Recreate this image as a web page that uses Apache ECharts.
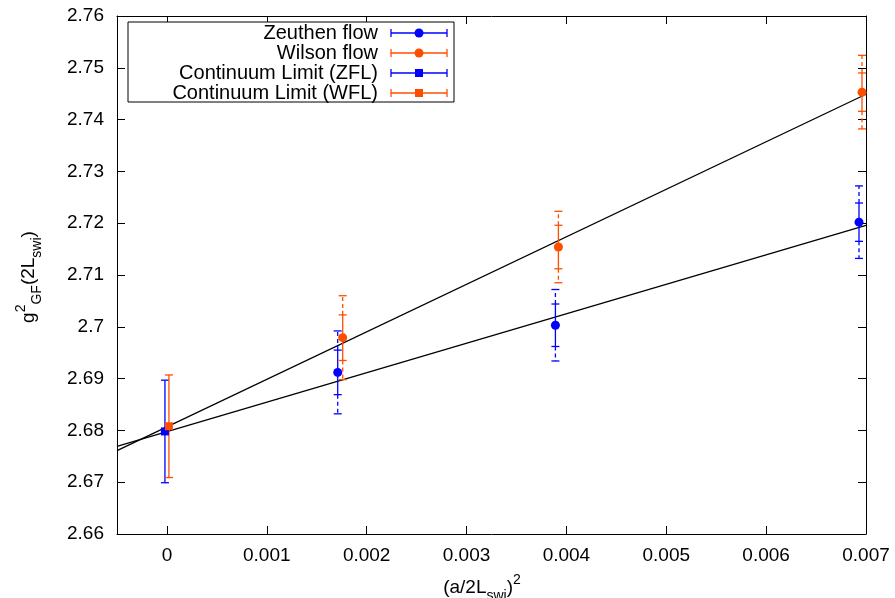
<!DOCTYPE html>
<html>
<head>
<meta charset="utf-8">
<script src="https://cdn.jsdelivr.net/npm/echarts@6/dist/echarts.min.js"></script>
<style>html,body{margin:0;padding:0;background:#fff;}#c{width:895px;height:598px;}</style>
</head>
<body>
<div id="c"></div>
<script>
// ---- data ----
const xTickValues = [0, 0.001, 0.002, 0.003, 0.004, 0.005, 0.006, 0.007];
const legendNames = ['Zeuthen flow', 'Wilson flow', 'Continuum Limit (ZFL)', 'Continuum Limit (WFL)'];

const zfX = [0.00171, 0.00389, 0.00693];
const zfY = [2.6912, 2.7003, 2.7202];
const zfStat = [0.0043, 0.0041, 0.0037];
const zfTot = [0.0080, 0.0069, 0.0070];

const wfX = [0.00176, 0.00392, 0.00696];
const wfY = [2.6979, 2.7154, 2.7453];
const wfStat = [0.0044, 0.0042, 0.0037];
const wfTot = [0.0081, 0.0069, 0.0071];

const zflX = [-0.00002];
const zflY = [2.6798];
const zflErr = [0.0099];

const wflX = [0.00002];
const wflY = [2.6808];
const wflErr = [0.0099];

const fitX = [-0.0005, 0.007];
const zflFitY = [2.6769, 2.7196];
const wflFitY = [2.6761, 2.7449];

// ---- styling ----
const BLUE = '#0000ff';
const ORANGE = '#ff4d00';
const FONT = 'Liberation Sans, Arial, sans-serif';
const FS = 19;
const LFS = 20;
const EW = 1.3;

function errData(xs, ys, st, tot) {
  return xs.map((x, i) => [x, ys[i], st[i], tot ? tot[i] : 0]);
}
function ptData(xs, ys) { return xs.map((x, i) => [x, ys[i]]); }

function errRender(color) {
  return function (params, api) {
    const x = api.value(0), y = api.value(1), s = api.value(2), t = api.value(3);
    const pc = api.coord([x, y]);
    const px = pc[0];
    const yS1 = api.coord([x, y - s])[1], yS2 = api.coord([x, y + s])[1];
    const ch = [];
    const st = { stroke: color, lineWidth: EW };
    const dst = { stroke: color, lineWidth: EW, lineDash: [4, 3] };
    ch.push({ type: 'line', shape: { x1: px, y1: yS1, x2: px, y2: yS2 }, style: st });
    ch.push({ type: 'line', shape: { x1: px - 4, y1: yS1, x2: px + 4, y2: yS1 }, style: st });
    ch.push({ type: 'line', shape: { x1: px - 4, y1: yS2, x2: px + 4, y2: yS2 }, style: st });
    if (t > s) {
      const yT1 = api.coord([x, y - t])[1], yT2 = api.coord([x, y + t])[1];
      ch.push({ type: 'line', shape: { x1: px, y1: yS1, x2: px, y2: yT1 }, style: dst });
      ch.push({ type: 'line', shape: { x1: px, y1: yS2, x2: px, y2: yT2 }, style: dst });
      ch.push({ type: 'line', shape: { x1: px - 4, y1: yT1, x2: px + 4, y2: yT1 }, style: st });
      ch.push({ type: 'line', shape: { x1: px - 4, y1: yT2, x2: px + 4, y2: yT2 }, style: st });
    }
    return { type: 'group', children: ch };
  };
}

function fmtX(v) { return String(Number(v.toFixed(4))); }
function fmtY(v) { return String(Number(v.toFixed(2))); }

const axisLineStyle = { show: true, onZero: false, lineStyle: { color: '#000', width: 1 } };

// legend graphic
const legendColors = [BLUE, ORANGE, BLUE, ORANGE];
const legendSymbols = ['circle', 'circle', 'rect', 'rect'];
const legendGraphics = [{
  type: 'rect', shape: { x: 128, y: 22, width: 326, height: 80 },
  style: { fill: '#fff', stroke: '#000', lineWidth: 1 }, z: 100
}];
legendNames.forEach((name, i) => {
  const cy = 33 + i * 20;
  const c = legendColors[i];
  legendGraphics.push({ type: 'text', x: 378, y: cy, z: 101,
    style: { text: name, fill: '#000', font: LFS + 'px ' + FONT, textAlign: 'right', textVerticalAlign: 'middle' } });
  legendGraphics.push({ type: 'line', z: 101, shape: { x1: 391, y1: cy, x2: 447, y2: cy }, style: { stroke: c, lineWidth: EW } });
  legendGraphics.push({ type: 'line', z: 101, shape: { x1: 391, y1: cy - 4, x2: 391, y2: cy + 4 }, style: { stroke: c, lineWidth: EW } });
  legendGraphics.push({ type: 'line', z: 101, shape: { x1: 447, y1: cy - 4, x2: 447, y2: cy + 4 }, style: { stroke: c, lineWidth: EW } });
  if (legendSymbols[i] === 'circle') {
    legendGraphics.push({ type: 'circle', z: 102, shape: { cx: 419, cy: cy, r: 4.5 }, style: { fill: c } });
  } else {
    legendGraphics.push({ type: 'rect', z: 102, shape: { x: 415, y: cy - 4, width: 8, height: 8 }, style: { fill: c } });
  }
});

const richStyles = {
  a: { fontSize: FS, fontFamily: FONT, color: '#000', lineHeight: 30 },
  sup: { fontSize: 14, fontFamily: FONT, color: '#000', lineHeight: 14, verticalAlign: 'top' },
  sub: { fontSize: 14, fontFamily: FONT, color: '#000', lineHeight: 14, verticalAlign: 'bottom' }
};

const chart = echarts.init(document.getElementById('c'), null, { renderer: 'canvas' });
chart.setOption({
  animation: false,
  backgroundColor: '#fff',
  grid: { left: 117, right: 29, top: 16, bottom: 64, containLabel: false, show: false },
  xAxis: [{
    type: 'value', min: -0.0005, max: 0.007, interval: 0.0005,
    axisLine: axisLineStyle,
    axisTick: { show: true, inside: true, length: 8, customValues: xTickValues, lineStyle: { color: '#000' } },
    axisLabel: { show: true, customValues: xTickValues, formatter: fmtX, color: '#000', fontSize: FS, fontFamily: FONT, margin: 12 },
    splitLine: { show: false }
  }, {
    type: 'value', position: 'top', min: -0.0005, max: 0.007, interval: 0.0005,
    axisLine: axisLineStyle,
    axisTick: { show: true, inside: true, length: 8, customValues: xTickValues, lineStyle: { color: '#000' } },
    axisLabel: { show: false }, splitLine: { show: false }
  }],
  yAxis: [{
    type: 'value', min: 2.66, max: 2.76, interval: 0.01,
    axisLine: axisLineStyle,
    axisTick: { show: true, inside: true, length: 8, lineStyle: { color: '#000' } },
    axisLabel: { formatter: fmtY, color: '#000', fontSize: FS, fontFamily: FONT, margin: 13 },
    splitLine: { show: false }
  }, {
    type: 'value', position: 'right', min: 2.66, max: 2.76, interval: 0.01,
    axisLine: axisLineStyle,
    axisTick: { show: true, inside: true, length: 8, lineStyle: { color: '#000' } },
    axisLabel: { show: false }, splitLine: { show: false }
  }],
  series: [
    { type: 'line', name: 'fitZFL', data: ptData(fitX, zflFitY), symbol: 'none', lineStyle: { color: '#000', width: 1.3 }, z: 2, silent: true },
    { type: 'line', name: 'fitWFL', data: ptData(fitX, wflFitY), symbol: 'none', lineStyle: { color: '#000', width: 1.3 }, z: 2, silent: true },
    { type: 'custom', name: legendNames[0] + ' err', data: errData(zfX, zfY, zfStat, zfTot), renderItem: errRender(BLUE), z: 3, clip: false },
    { type: 'custom', name: legendNames[1] + ' err', data: errData(wfX, wfY, wfStat, wfTot), renderItem: errRender(ORANGE), z: 3, clip: false },
    { type: 'custom', name: legendNames[2] + ' err', data: errData(zflX, zflY, zflErr), renderItem: errRender(BLUE), z: 3, clip: false },
    { type: 'custom', name: legendNames[3] + ' err', data: errData(wflX, wflY, wflErr), renderItem: errRender(ORANGE), z: 3, clip: false },
    { type: 'scatter', name: legendNames[0], data: ptData(zfX, zfY), symbol: 'circle', symbolSize: 9, itemStyle: { color: BLUE, opacity: 1 }, z: 4 },
    { type: 'scatter', name: legendNames[1], data: ptData(wfX, wfY), symbol: 'circle', symbolSize: 9, itemStyle: { color: ORANGE, opacity: 1 }, z: 4 },
    { type: 'scatter', name: legendNames[2], data: ptData(zflX, zflY), symbol: 'rect', symbolSize: 8, itemStyle: { color: BLUE, opacity: 1 }, z: 4 },
    { type: 'scatter', name: legendNames[3], data: ptData(wflX, wflY), symbol: 'rect', symbolSize: 8, itemStyle: { color: ORANGE, opacity: 1 }, z: 4 }
  ],
  graphic: legendGraphics.concat([
    { type: 'text', x: 29, y: 277, rotation: Math.PI / 2, z: 50,
      style: { text: '{a|g}{sup|2}{sub|GF}{a|(2L}{sub|swi}{a|)}', rich: richStyles, textAlign: 'center', textVerticalAlign: 'middle' } },
    { type: 'text', x: 482, y: 588, z: 50,
      style: { text: '{a|(a/2L}{sub|swi}{a|)}{sup|2}', rich: richStyles, textAlign: 'center', textVerticalAlign: 'middle' } }
  ])
});
</script>
</body>
</html>
